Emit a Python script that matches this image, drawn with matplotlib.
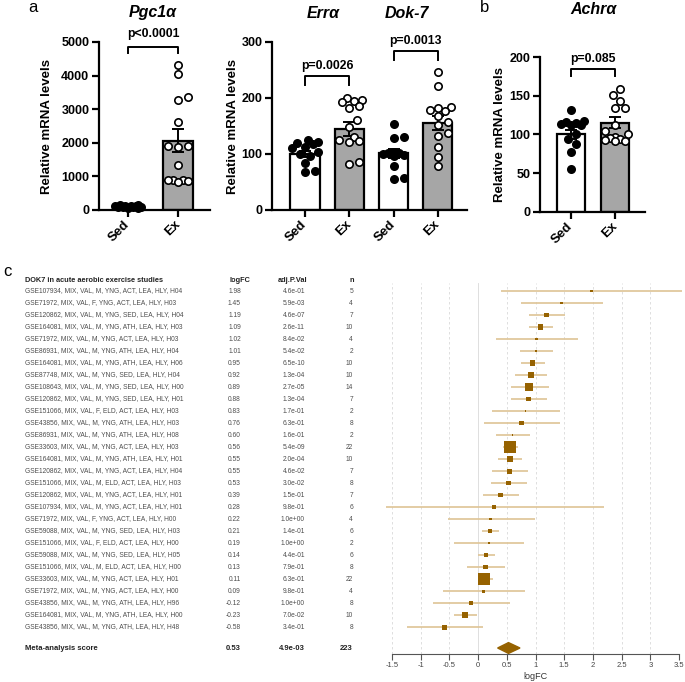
import numpy as np
import matplotlib
matplotlib.use('Agg')
import matplotlib.pyplot as plt
from matplotlib.transforms import blended_transform_factory

plt.rcParams['font.family'] = ['Liberation Sans', 'DejaVu Sans']

# ---- panel a / b data (relative mRNA levels) ----
pgc_sed = [150, 140, 130, 120, 110, 105, 100, 95, 90, 80, 70, 60]
pgc_ex = [4320, 4060, 3350, 3280, 2630, 1910, 1900, 1880, 1340, 900, 890, 880, 860, 830]
pgc_mean = [100, 2060]
pgc_sem = [10, 340]

err_sed = [125, 122, 120, 117, 113, 110, 104, 100, 97, 84, 69, 67]
err_ex = [200, 197, 195, 193, 185, 183, 160, 148, 130, 125, 124, 122, 85, 82]
dok_sed = [153, 130, 128, 104, 102, 101, 100, 99, 97, 78, 57, 55]
dok_ex = [246, 221, 184, 183, 178, 176, 168, 157, 152, 137, 133, 113, 95, 78]
errdok_mean = [100, 145, 101, 155]
errdok_sem = [6, 12, 8, 12]

ach_sed = [132, 118, 116, 115, 113, 112, 112, 100, 94, 88, 78, 55]
ach_ex = [159, 151, 143, 134, 134, 112, 104, 100, 97, 95, 94, 93, 92, 91]
ach_mean = [100, 115]
ach_sem = [6, 7]

# ---- panel c data (forest plot) ----
studies = [
    "GSE107934, MIX, VAL, M, YNG, ACT, LEA, HLY, H04",
    "GSE71972, MIX, VAL, F, YNG, ACT, LEA, HLY, H03",
    "GSE120862, MIX, VAL, M, YNG, SED, LEA, HLY, H04",
    "GSE164081, MIX, VAL, M, YNG, ATH, LEA, HLY, H03",
    "GSE71972, MIX, VAL, M, YNG, ACT, LEA, HLY, H03",
    "GSE86931, MIX, VAL, M, YNG, ATH, LEA, HLY, H04",
    "GSE164081, MIX, VAL, M, YNG, ATH, LEA, HLY, H06",
    "GSE87748, MIX, VAL, M, YNG, SED, LEA, HLY, H04",
    "GSE108643, MIX, VAL, M, YNG, SED, LEA, HLY, H00",
    "GSE120862, MIX, VAL, M, YNG, SED, LEA, HLY, H01",
    "GSE151066, MIX, VAL, F, ELD, ACT, LEA, HLY, H03",
    "GSE43856, MIX, VAL, M, YNG, ATH, LEA, HLY, H03",
    "GSE86931, MIX, VAL, M, YNG, ATH, LEA, HLY, H08",
    "GSE33603, MIX, VAL, M, YNG, ACT, LEA, HLY, H03",
    "GSE164081, MIX, VAL, M, YNG, ATH, LEA, HLY, H01",
    "GSE120862, MIX, VAL, M, YNG, ACT, LEA, HLY, H04",
    "GSE151066, MIX, VAL, M, ELD, ACT, LEA, HLY, H03",
    "GSE120862, MIX, VAL, M, YNG, ACT, LEA, HLY, H01",
    "GSE107934, MIX, VAL, M, YNG, ACT, LEA, HLY, H01",
    "GSE71972, MIX, VAL, F, YNG, ACT, LEA, HLY, H00",
    "GSE59088, MIX, VAL, M, YNG, SED, LEA, HLY, H03",
    "GSE151066, MIX, VAL, F, ELD, ACT, LEA, HLY, H00",
    "GSE59088, MIX, VAL, M, YNG, SED, LEA, HLY, H05",
    "GSE151066, MIX, VAL, M, ELD, ACT, LEA, HLY, H00",
    "GSE33603, MIX, VAL, M, YNG, ACT, LEA, HLY, H01",
    "GSE71972, MIX, VAL, M, YNG, ACT, LEA, HLY, H00",
    "GSE43856, MIX, VAL, M, YNG, ATH, LEA, HLY, H96",
    "GSE164081, MIX, VAL, M, YNG, ATH, LEA, HLY, H00",
    "GSE43856, MIX, VAL, M, YNG, ATH, LEA, HLY, H48",
]
logfc = [1.98, 1.45, 1.19, 1.09, 1.02, 1.01, 0.95, 0.92, 0.89, 0.88, 0.83, 0.76, 0.60, 0.56, 0.55,
         0.55, 0.53, 0.39, 0.28, 0.22, 0.21, 0.19, 0.14, 0.13, 0.11, 0.09, -0.12, -0.23, -0.58]
adj_p = ["4.6e-01", "5.9e-03", "4.6e-07", "2.6e-11", "8.4e-02", "5.4e-02", "6.5e-10", "1.3e-04",
         "2.7e-05", "1.3e-04", "1.7e-01", "6.3e-01", "1.6e-01", "5.4e-09", "2.0e-04", "4.6e-02",
         "3.0e-02", "1.5e-01", "9.8e-01", "1.0e+00", "1.4e-01", "1.0e+00", "4.4e-01", "7.9e-01",
         "6.3e-01", "9.8e-01", "1.0e+00", "7.0e-02", "3.4e-01"]
n_samples = [5, 4, 7, 10, 4, 2, 10, 10, 14, 7, 2, 8, 2, 22, 10, 7, 8, 7, 6, 4, 6, 2, 6, 8, 22, 4, 8, 10, 8]
ci_lo = [0.40, 0.74, 0.89, 0.89, 0.32, 0.73, 0.75, 0.64, 0.57, 0.58, 0.24, 0.10, 0.31, 0.44, 0.35,
         0.24, 0.22, 0.09, -1.61, -0.53, 0.06, -0.42, -0.01, -0.19, -0.01, -0.61, -0.78, -0.42, -1.23]
ci_hi = [3.56, 2.17, 1.51, 1.30, 1.74, 1.31, 1.17, 1.20, 1.24, 1.20, 1.43, 1.42, 0.90, 0.70, 0.77,
         0.87, 0.85, 0.71, 2.19, 0.99, 0.37, 0.80, 0.30, 0.46, 0.26, 0.81, 0.55, -0.02, 0.09]
# relative study weight (drawn as square size)
weights = [2.7, 2.5, 4.5, 5.5, 2.5, 1.5, 5.5, 5.5, 7.5, 4.5, 1.5, 4.5, 1.5, 12, 6, 5, 4.5, 4.5,
           3.5, 2.5, 4, 1.5, 3.5, 4.5, 12, 3, 4.5, 5.5, 5]
meta_est, meta_lo, meta_hi = 0.53, 0.34, 0.73
meta_p, meta_n = "4.9e-03", 223

W, H = 685, 682
fig = plt.figure(figsize=(W / 100, H / 100), dpi=100)
EX_GREY = '#a6a6a6'
GOLD = '#966200'


def box(l, t, r, b):
    return [l / W, 1 - b / H, (r - l) / W, (b - t) / H]


def swarm_x(ax, xc, vals, diam=8.5, maxw=15):
    # simple beeswarm in pixel space
    tr = ax.transData
    pts = tr.transform(np.column_stack([np.full(len(vals), xc), vals]))
    cands = [0.0]
    for k in range(1, 30):
        cands += [k * diam * 0.3, -k * diam * 0.3]
    cands = [c for c in cands if abs(c) <= maxw]
    placed = []
    out = np.zeros(len(vals))
    for i in np.argsort(pts[:, 1]):
        y = pts[i, 1]
        best, best_d = None, -1
        for c in cands:
            d = min([np.hypot(c - px, y - py) for px, py in placed] or [1e9])
            if d >= diam:
                best = c
                break
            if d > best_d:
                best_d, best = d, c
        placed.append((best, y))
        out[i] = tr.inverted().transform((pts[i, 0] + best, y))[0]
    return out


def bar_panel(rect, sets, means, sems, xlim, ylim, yticks, labels, width, ylab_px):
    ax = fig.add_axes(box(*rect))
    ax.set_xlim(*xlim)
    ax.set_ylim(*ylim)
    for s in ['top', 'right']:
        ax.spines[s].set_visible(False)
    for s in ['left', 'bottom']:
        ax.spines[s].set_linewidth(1.6)
    ax.tick_params(width=1.6, length=5, pad=2)
    ax.set_yticks(yticks, [str(t) for t in yticks], fontsize=9, fontweight='bold')
    ax.set_xticks(range(len(sets)), labels, fontsize=9.5, fontweight='bold',
                  rotation=45, ha='right', va='center', rotation_mode='anchor')
    ax.tick_params(axis='x', pad=4)
    ax.set_ylabel('Relative mRNA levels', fontsize=9.5, fontweight='bold')
    ax.yaxis.label.set_verticalalignment('center')
    ax.yaxis.set_label_coords((ylab_px - rect[0]) / (rect[2] - rect[0]), 0.5)
    for i, (vals, m, se) in enumerate(zip(sets, means, sems)):
        ex = i % 2 == 1
        ax.bar(i, m, width, color=EX_GREY if ex else 'white', edgecolor='black',
               linewidth=1.6, zorder=1)
        ax.errorbar(i, m, yerr=se, color='black', capsize=4, elinewidth=1.4,
                    capthick=1.4, zorder=2)
        xs = swarm_x(ax, i, vals)
        ax.scatter(xs, vals, s=28, facecolor='white' if ex else 'black', edgecolor='black',
                   linewidth=1.2, zorder=3, clip_on=False)
    return ax


def bracket(ax, x0, x1, y, drop, text, ty):
    ax.plot([x0, x0, x1, x1], [y - drop, y, y, y - drop], color='black', lw=1.4,
            clip_on=False, zorder=4)
    ax.text((x0 + x1) / 2, ty, text, ha='center', va='center', fontsize=8.8,
            fontweight='bold', clip_on=False)


# Pgc1a
ax1 = bar_panel((99, 42, 210, 210), [pgc_sed, pgc_ex], pgc_mean, pgc_sem,
                (-0.58, 1.64), (0, 5000), range(0, 5001, 1000), ['Sed', 'Ex'], 0.6, 47)
bracket(ax1, 0, 1, 4860, 200, 'p<0.0001', 5230)

# Erra / Dok-7
ax2 = bar_panel((272, 42, 467, 210), [err_sed, err_ex, dok_sed, dok_ex], errdok_mean, errdok_sem,
                (-0.745, 3.66), (0, 300), range(0, 301, 100), ['Sed', 'Ex', 'Sed', 'Ex'], 0.66, 233)
bracket(ax2, 0, 1, 239, 16, 'p=0.0026', 257)
bracket(ax2, 2, 3, 284, 16, 'p=0.0013', 302)

# Achra
ax3 = bar_panel((540, 57, 645, 212), [ach_sed, ach_ex], ach_mean, ach_sem,
                (-0.705, 1.68), (0, 200), range(0, 201, 50), ['Sed', 'Ex'], 0.64, 500)
bracket(ax3, 0, 1, 184, 9, 'p=0.085', 198)

title_kw = dict(fontsize=11.5, fontweight='bold', fontstyle='italic', ha='center', va='center')
fig.text(153 / W, 1 - 12 / H, 'Pgc1α', **title_kw)
fig.text(323 / W, 1 - 13 / H, 'Errα', **title_kw)
fig.text(407 / W, 1 - 13 / H, 'Dok-7', **title_kw)
fig.text(593 / W, 1 - 10 / H, 'Achrα', **title_kw)
fig.text(33 / W, 1 - 8 / H, 'a', fontsize=12, ha='center', va='center')
fig.text(485 / W, 1 - 8 / H, 'b', fontsize=12, ha='center', va='center')
fig.text(7 / W, 1 - 272 / H, 'c', fontsize=12, ha='center', va='center')

# ---- forest plot ----
axf = fig.add_axes(box(392, 283, 679, 654))
axf.set_xlim(-1.5, 3.5)
axf.set_ylim(30.25, -0.67)
rows = np.arange(len(studies))
meta_row = 29.75
for s in ['top', 'right', 'left']:
    axf.spines[s].set_visible(False)
axf.spines['bottom'].set_color('#555555')
axf.spines['bottom'].set_linewidth(0.8)
xt = np.arange(-1.5, 3.51, 0.5)
axf.set_xticks(xt, ['%g' % v for v in xt])
axf.set_yticks([])
axf.tick_params(axis='x', length=4, width=0.8, color='#555555', labelsize=5.5,
                labelcolor='#444444', pad=2)
axf.set_xlabel('logFC', fontsize=6.5, color='#333333', labelpad=2)
for v in xt:
    axf.axvline(v, color='#d9d9d9', lw=0.6, ls='-' if v == 0 else (0, (3, 3)), zorder=0)

axf.hlines(rows, ci_lo, ci_hi, color='#dec495', lw=1.2, clip_on=False, zorder=1)
axf.scatter(logfc, rows, marker='s', s=(np.array(weights) * 0.72) ** 2, color=GOLD,
            linewidths=0, zorder=3)
axf.fill([meta_lo, meta_est, meta_hi, meta_est],
         [meta_row, meta_row - 0.45, meta_row, meta_row + 0.45], color=GOLD, zorder=3)

tt = blended_transform_factory(fig.transFigure, axf.transData)
hdr_y = -0.92
hdr = dict(transform=tt, fontsize=5.3, fontweight='bold', color='#222222', va='center')
axf.text(25 / W, hdr_y, 'DOK7 in acute aerobic exercise studies', ha='left', **hdr)
axf.text(240 / W, hdr_y, 'logFC', ha='center', **hdr)
axf.text(307 / W, hdr_y, 'adj.P.Val', ha='right', **hdr)
axf.text(352 / W, hdr_y, 'n', ha='center', **hdr)
row_kw = dict(transform=tt, fontsize=4.8, color='#4d4d4d', va='center')
for i, lab in enumerate(studies):
    axf.text(25 / W, i, lab, ha='left', **row_kw)
    axf.text(241 / W, i, '%.2f' % logfc[i], ha='right', **row_kw)
    axf.text(305 / W, i, adj_p[i], ha='right', **row_kw)
    axf.text(353 / W, i, str(n_samples[i]), ha='right', **row_kw)
meta_kw = dict(transform=tt, fontsize=5.5, fontweight='bold', color='#222222', va='center')
axf.text(25 / W, meta_row, 'Meta-analysis score', ha='left', **meta_kw)
axf.text(241 / W, meta_row, '%.2f' % meta_est, ha='right', **meta_kw)
axf.text(305 / W, meta_row, meta_p, ha='right', **meta_kw)
axf.text(353 / W, meta_row, str(meta_n), ha='right', **meta_kw)

fig.savefig('out.png', dpi=100)
